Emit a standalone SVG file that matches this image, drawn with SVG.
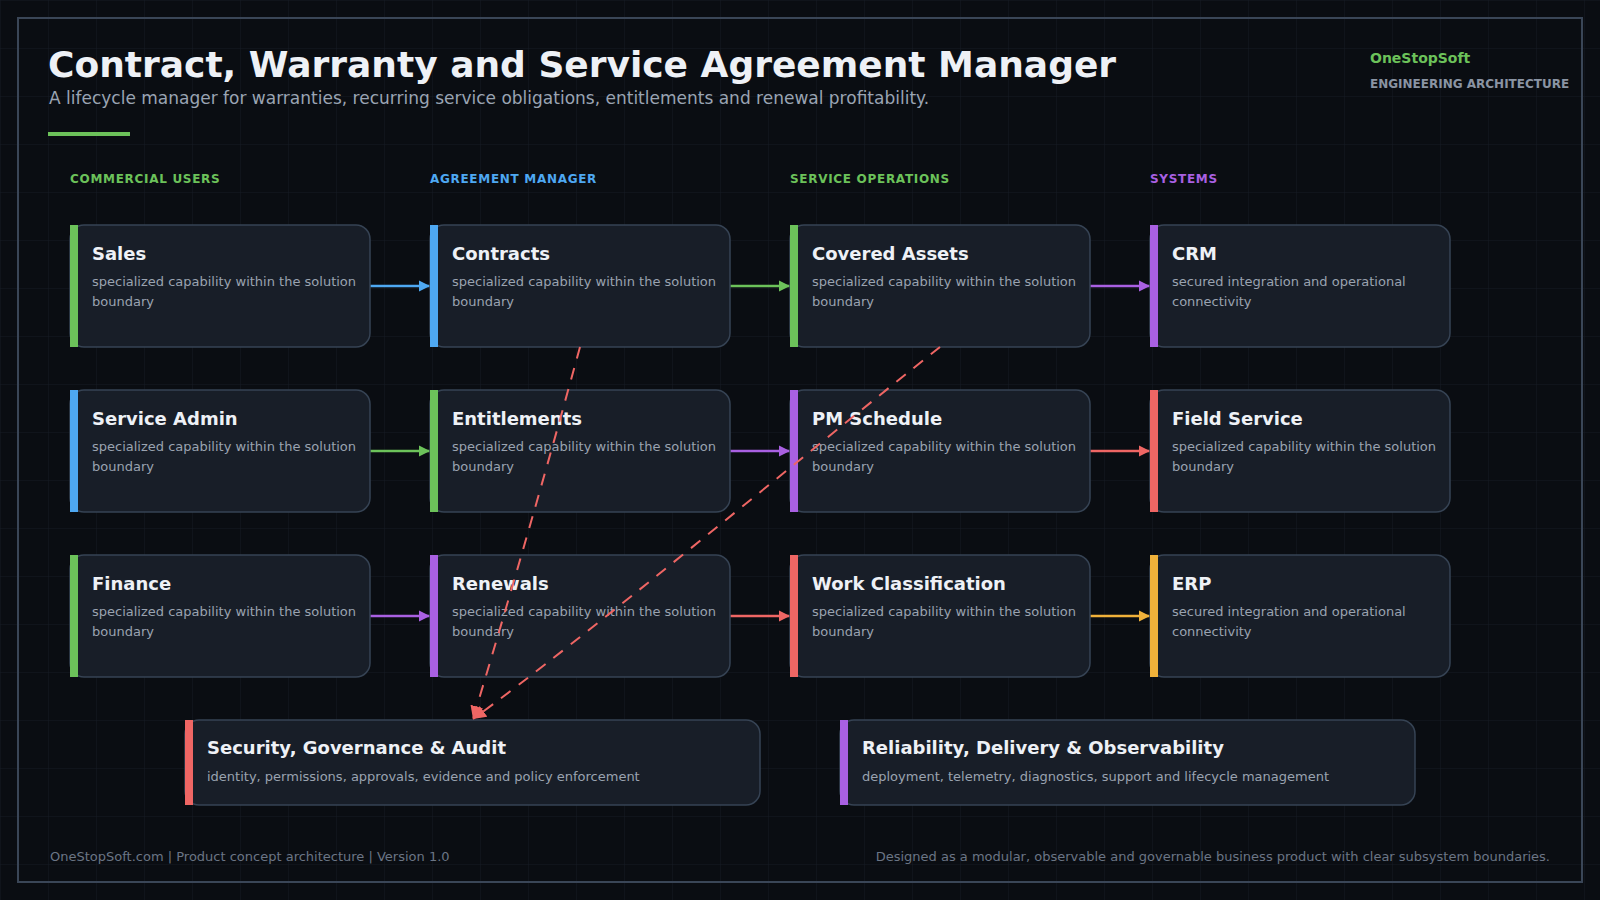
<svg xmlns="http://www.w3.org/2000/svg" width="1600" height="900" viewBox="0 0 1600 900">
<defs>
<pattern id="grid" width="48" height="48" patternUnits="userSpaceOnUse">
<path d="M48 0H0V48" fill="none" stroke="#151c24" stroke-width="1"/>
</pattern>
<marker id="m-blue" viewBox="0 0 12 12" markerUnits="userSpaceOnUse" markerWidth="11" markerHeight="13" refX="12" refY="6" orient="auto"><path d="M0,0 L12,6 L0,12 z" fill="#4ea8f2"/></marker>
<marker id="m-green" viewBox="0 0 12 12" markerUnits="userSpaceOnUse" markerWidth="11" markerHeight="13" refX="12" refY="6" orient="auto"><path d="M0,0 L12,6 L0,12 z" fill="#6cc25a"/></marker>
<marker id="m-purple" viewBox="0 0 12 12" markerUnits="userSpaceOnUse" markerWidth="11" markerHeight="13" refX="12" refY="6" orient="auto"><path d="M0,0 L12,6 L0,12 z" fill="#a960e2"/></marker>
<marker id="m-red" viewBox="0 0 12 12" markerUnits="userSpaceOnUse" markerWidth="11" markerHeight="13" refX="12" refY="6" orient="auto"><path d="M0,0 L12,6 L0,12 z" fill="#ef6664"/></marker>
<marker id="m-orange" viewBox="0 0 12 12" markerUnits="userSpaceOnUse" markerWidth="11" markerHeight="13" refX="12" refY="6" orient="auto"><path d="M0,0 L12,6 L0,12 z" fill="#f0b13a"/></marker>
<marker id="m-dash" viewBox="0 0 12 12" markerUnits="userSpaceOnUse" markerWidth="13" markerHeight="13" refX="12" refY="6" orient="auto"><path d="M0,0 L12,6 L0,12 z" fill="#ef6664"/></marker>
</defs>
<style>
text{font-family:"DejaVu Sans","Noto Sans",sans-serif}
.title{font-size:36px;font-weight:bold;fill:#eef1f6}
.sub{font-size:17px;fill:#9aa4b3}
.brand{font-size:14px;font-weight:bold;fill:#6cc25a}
.brand2{font-size:12px;font-weight:bold;fill:#8a94a3}
.col{font-size:12px;font-weight:bold;letter-spacing:0.7px}
.box{fill:#181e28;stroke:#364354;stroke-width:1.5}
.nt{font-size:18px;font-weight:bold;fill:#eef1f6}
.nd{font-size:13px;fill:#9aa3b0}
.foot{font-size:13px;fill:#6b7585}
.c{fill:none;stroke-width:2.5}
.d{fill:none;stroke:#ef6664;stroke-width:2;stroke-dasharray:12 10}
</style>
<rect width="1600" height="900" fill="#0a0d12"/>
<rect width="1600" height="900" fill="url(#grid)"/>
<rect x="18" y="18" width="1564" height="864" fill="none" stroke="#3a4657" stroke-width="2"/>

<g id="header">
<text class="title" x="48" y="77">Contract, Warranty and Service Agreement Manager</text>
<text class="sub" x="49" y="104">A lifecycle manager for warranties, recurring service obligations, entitlements and renewal profitability.</text>
<rect x="48" y="132" width="82" height="4" fill="#6cc25a"/>
<text class="brand" x="1370" y="63">OneStopSoft</text>
<text class="brand2" x="1370" y="88">ENGINEERING ARCHITECTURE</text>
</g>

<g id="columns">
<text class="col" x="70" y="183" fill="#6cc25a">COMMERCIAL USERS</text>
<text class="col" x="430" y="183" fill="#4ea8f2">AGREEMENT MANAGER</text>
<text class="col" x="790" y="183" fill="#6cc25a">SERVICE OPERATIONS</text>
<text class="col" x="1150" y="183" fill="#a960e2">SYSTEMS</text>
</g>

<g id="connectors">
<line class="c" x1="370" y1="286" x2="430" y2="286" stroke="#4ea8f2" marker-end="url(#m-blue)"/>
<line class="c" x1="370" y1="451" x2="430" y2="451" stroke="#6cc25a" marker-end="url(#m-green)"/>
<line class="c" x1="370" y1="616" x2="430" y2="616" stroke="#a960e2" marker-end="url(#m-purple)"/>
<line class="c" x1="730" y1="286" x2="790" y2="286" stroke="#6cc25a" marker-end="url(#m-green)"/>
<line class="c" x1="730" y1="451" x2="790" y2="451" stroke="#a960e2" marker-end="url(#m-purple)"/>
<line class="c" x1="730" y1="616" x2="790" y2="616" stroke="#ef6664" marker-end="url(#m-red)"/>
<line class="c" x1="1090" y1="286" x2="1150" y2="286" stroke="#a960e2" marker-end="url(#m-purple)"/>
<line class="c" x1="1090" y1="451" x2="1150" y2="451" stroke="#ef6664" marker-end="url(#m-red)"/>
<line class="c" x1="1090" y1="616" x2="1150" y2="616" stroke="#f0b13a" marker-end="url(#m-orange)"/>
</g>

<g id="n-sales"><rect class="box" x="70" y="225" width="300" height="122" rx="14"/><rect x="70" y="225" width="8" height="122" fill="#6cc25a"/><text class="nt" x="92" y="260">Sales</text><text class="nd" x="92" y="286">specialized capability within the solution</text><text class="nd" x="92" y="306">boundary</text></g>
<g id="n-serviceadmin"><rect class="box" x="70" y="390" width="300" height="122" rx="14"/><rect x="70" y="390" width="8" height="122" fill="#4ea8f2"/><text class="nt" x="92" y="425">Service Admin</text><text class="nd" x="92" y="451">specialized capability within the solution</text><text class="nd" x="92" y="471">boundary</text></g>
<g id="n-finance"><rect class="box" x="70" y="555" width="300" height="122" rx="14"/><rect x="70" y="555" width="8" height="122" fill="#6cc25a"/><text class="nt" x="92" y="590">Finance</text><text class="nd" x="92" y="616">specialized capability within the solution</text><text class="nd" x="92" y="636">boundary</text></g>

<g id="n-contracts"><rect class="box" x="430" y="225" width="300" height="122" rx="14"/><rect x="430" y="225" width="8" height="122" fill="#4ea8f2"/><text class="nt" x="452" y="260">Contracts</text><text class="nd" x="452" y="286">specialized capability within the solution</text><text class="nd" x="452" y="306">boundary</text></g>
<g id="n-entitlements"><rect class="box" x="430" y="390" width="300" height="122" rx="14"/><rect x="430" y="390" width="8" height="122" fill="#6cc25a"/><text class="nt" x="452" y="425">Entitlements</text><text class="nd" x="452" y="451">specialized capability within the solution</text><text class="nd" x="452" y="471">boundary</text></g>
<g id="n-renewals"><rect class="box" x="430" y="555" width="300" height="122" rx="14"/><rect x="430" y="555" width="8" height="122" fill="#a960e2"/><text class="nt" x="452" y="590">Renewals</text><text class="nd" x="452" y="616">specialized capability within the solution</text><text class="nd" x="452" y="636">boundary</text></g>

<g id="n-coveredassets"><rect class="box" x="790" y="225" width="300" height="122" rx="14"/><rect x="790" y="225" width="8" height="122" fill="#6cc25a"/><text class="nt" x="812" y="260">Covered Assets</text><text class="nd" x="812" y="286">specialized capability within the solution</text><text class="nd" x="812" y="306">boundary</text></g>
<g id="n-pmschedule"><rect class="box" x="790" y="390" width="300" height="122" rx="14"/><rect x="790" y="390" width="8" height="122" fill="#a960e2"/><text class="nt" x="812" y="425">PM Schedule</text><text class="nd" x="812" y="451">specialized capability within the solution</text><text class="nd" x="812" y="471">boundary</text></g>
<g id="n-workclass"><rect class="box" x="790" y="555" width="300" height="122" rx="14"/><rect x="790" y="555" width="8" height="122" fill="#ef6664"/><text class="nt" x="812" y="590">Work Classification</text><text class="nd" x="812" y="616">specialized capability within the solution</text><text class="nd" x="812" y="636">boundary</text></g>

<g id="n-crm"><rect class="box" x="1150" y="225" width="300" height="122" rx="14"/><rect x="1150" y="225" width="8" height="122" fill="#a960e2"/><text class="nt" x="1172" y="260">CRM</text><text class="nd" x="1172" y="286">secured integration and operational</text><text class="nd" x="1172" y="306">connectivity</text></g>
<g id="n-fieldservice"><rect class="box" x="1150" y="390" width="300" height="122" rx="14"/><rect x="1150" y="390" width="8" height="122" fill="#ef6664"/><text class="nt" x="1172" y="425">Field Service</text><text class="nd" x="1172" y="451">specialized capability within the solution</text><text class="nd" x="1172" y="471">boundary</text></g>
<g id="n-erp"><rect class="box" x="1150" y="555" width="300" height="122" rx="14"/><rect x="1150" y="555" width="8" height="122" fill="#f0b13a"/><text class="nt" x="1172" y="590">ERP</text><text class="nd" x="1172" y="616">secured integration and operational</text><text class="nd" x="1172" y="636">connectivity</text></g>

<g id="n-security"><rect class="box" x="185" y="720" width="575" height="85" rx="14"/><rect x="185" y="720" width="8" height="85" fill="#ef6664"/><text class="nt" x="207" y="754">Security, Governance &amp; Audit</text><text class="nd" x="207" y="781">identity, permissions, approvals, evidence and policy enforcement</text></g>
<g id="n-reliability"><rect class="box" x="840" y="720" width="575" height="85" rx="14"/><rect x="840" y="720" width="8" height="85" fill="#a960e2"/><text class="nt" x="862" y="754">Reliability, Delivery &amp; Observability</text><text class="nd" x="862" y="781">deployment, telemetry, diagnostics, support and lifecycle management</text></g>

<g id="dashed-connectors">
<path class="d" d="M580,347 Q530,530 473,719" marker-end="url(#m-dash)"/>
<path class="d" d="M940,347 C800,458 582,640 473,719" marker-end="url(#m-dash)"/>
</g>

<g id="footer">
<text class="foot" x="50" y="861">OneStopSoft.com | Product concept architecture | Version 1.0</text>
<text class="foot" x="1550" y="861" text-anchor="end">Designed as a modular, observable and governable business product with clear subsystem boundaries.</text>
</g>
</svg>
